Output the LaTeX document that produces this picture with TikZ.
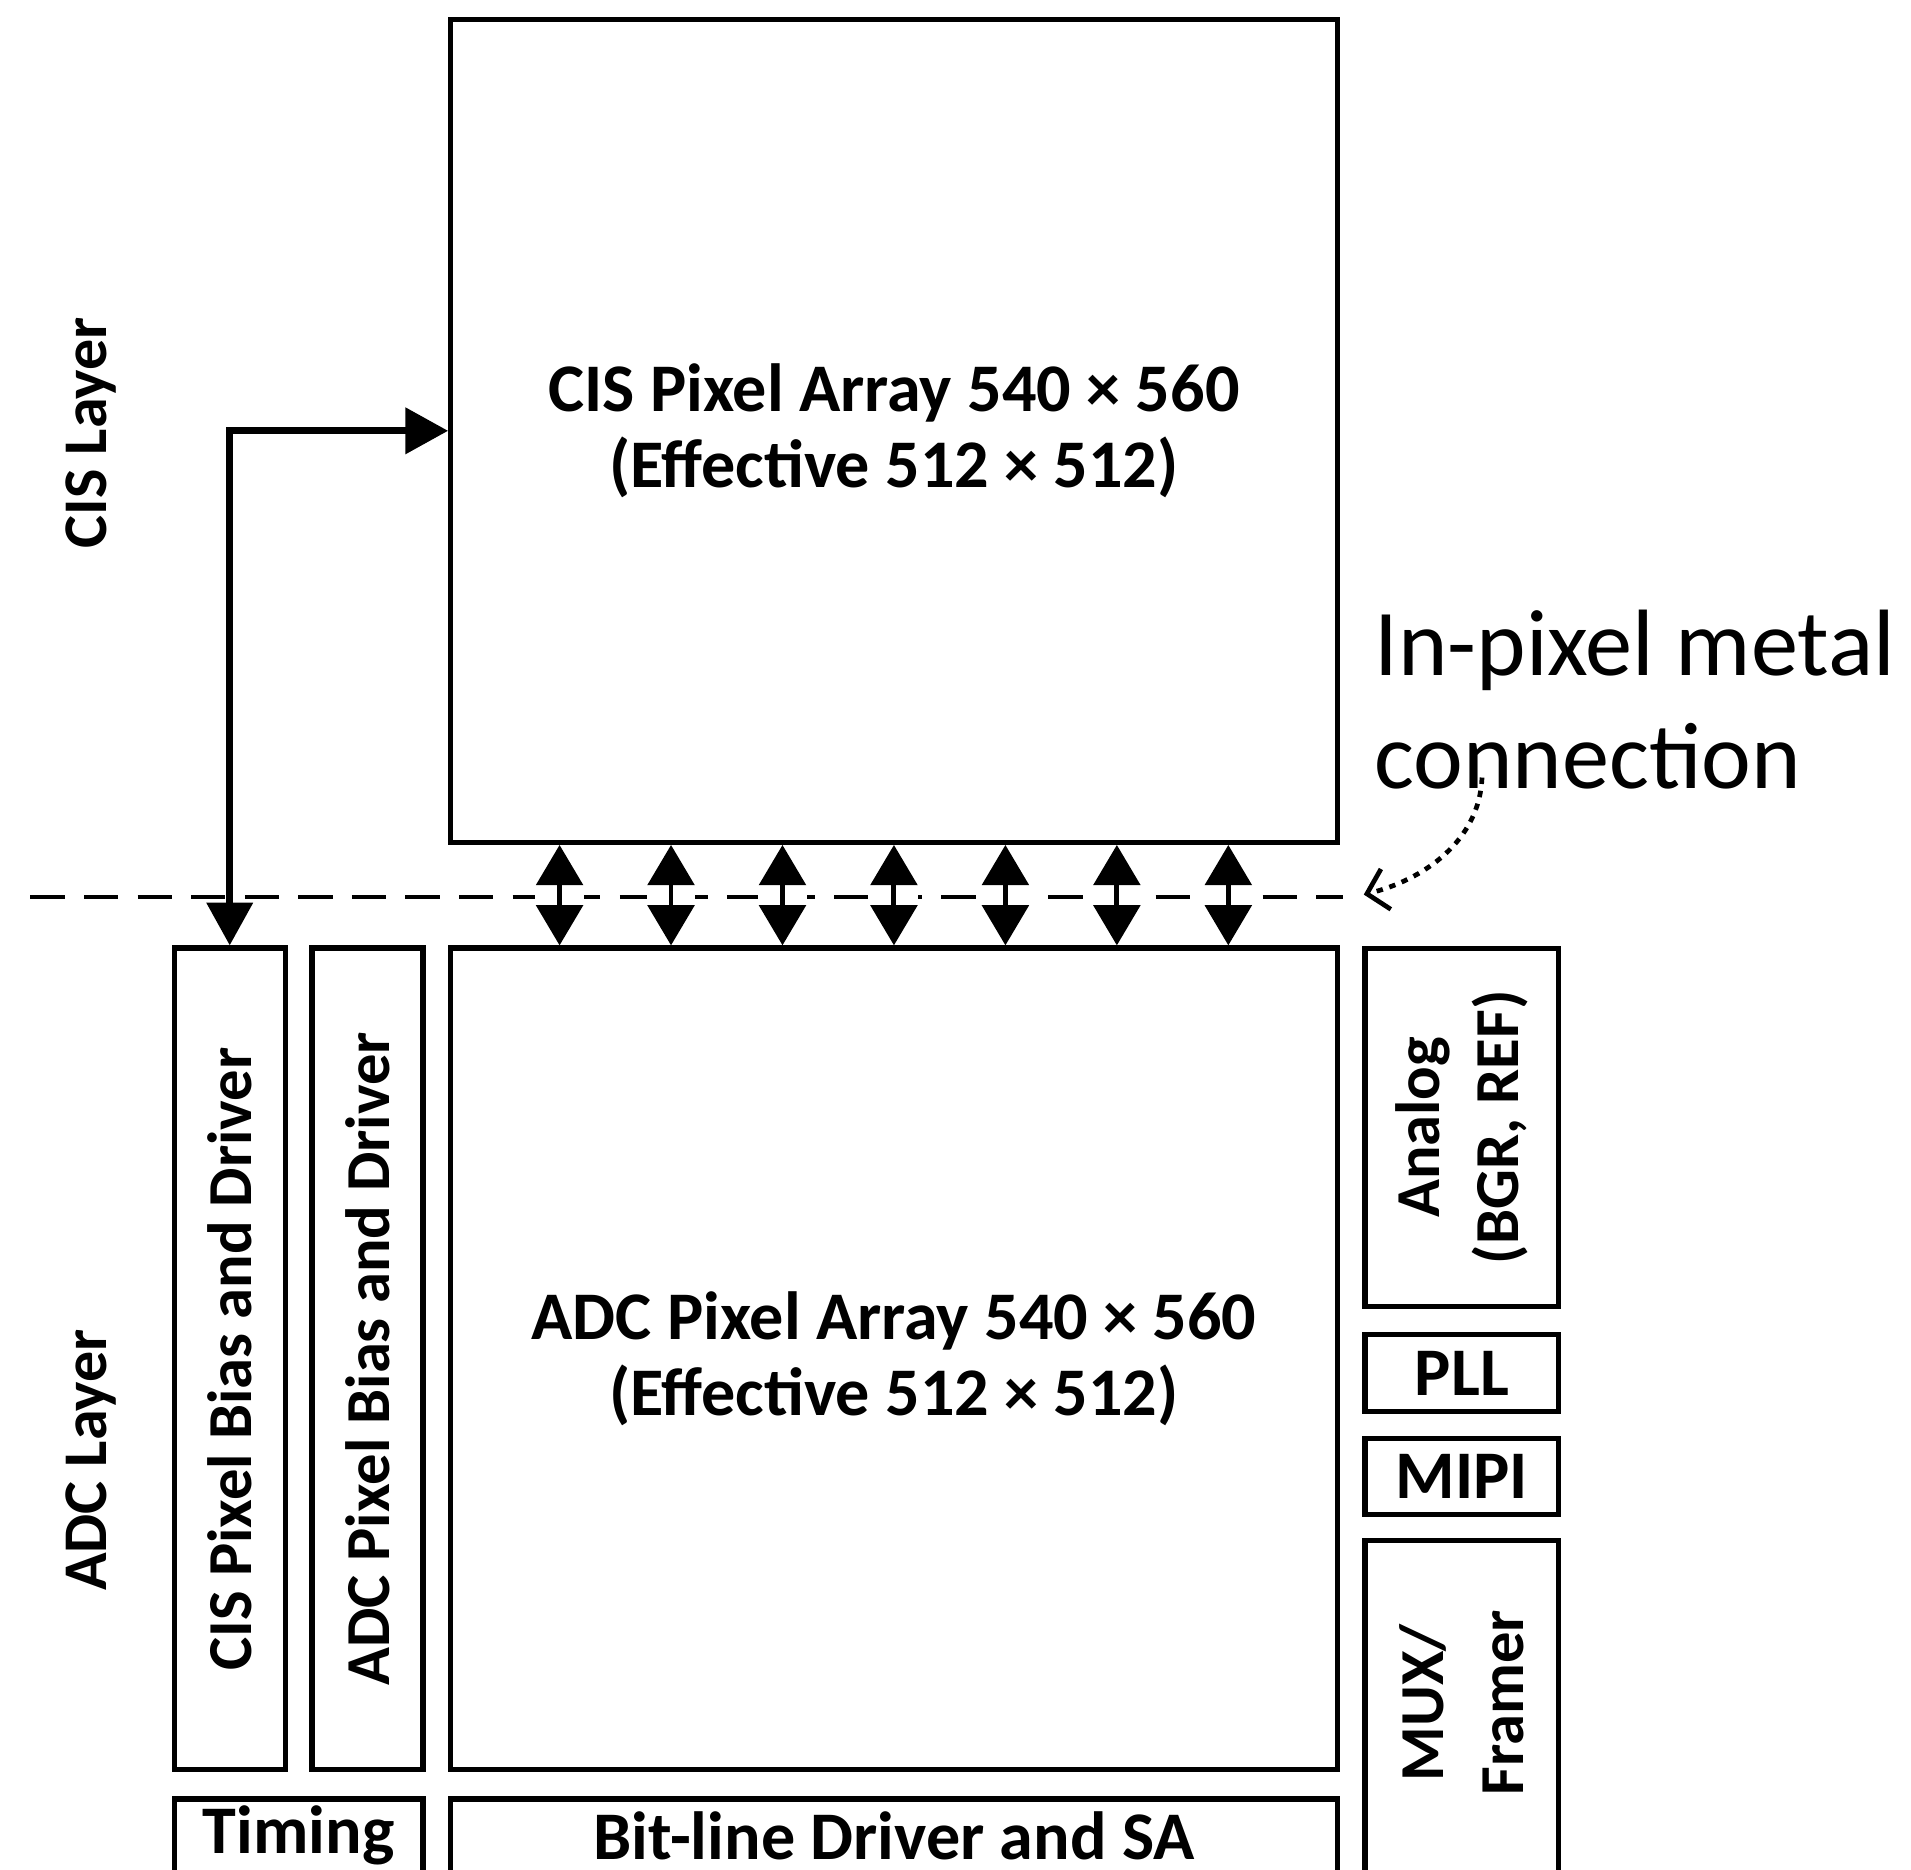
\documentclass[tikz,border=0pt]{standalone}
\usepackage{fontspec}
\setmainfont{Carlito}
\usetikzlibrary{arrows.meta, calc}
\tikzset{
	blk/.style   ={rectangle, draw=black, line width=1.2pt, inner sep=0pt, align=center, font=\bfseries\fontsize{15.9}{17.6}\selectfont},
	vblk/.style  ={blk, rotate=90, font=\bfseries\fontsize{14.6}{18.5}\selectfont},
	lyr/.style   ={rotate=90, inner sep=0pt, font=\bfseries\fontsize{14.5}{17}\selectfont},
	% connectors between the two dies
	sig/.style   ={{Triangle[length=0.35cm, width=0.37cm]}-{Triangle[length=0.35cm, width=0.37cm]}, line width=1.6pt},
	via/.style   ={{Triangle[length=0.33cm, width=0.38cm]}-{Triangle[length=0.33cm, width=0.38cm]}, line width=1.15pt, preaction={draw=white, line width=0.4cm, -, shorten <=0.26cm, shorten >=0.26cm}},
	bond/.style  ={dash pattern=on 8pt off 4.5pt, line width=0.8pt},
	callout/.style={dash pattern=on 1.5pt off 1.6pt, line width=1.1pt, -{Straight Barb[length=0.16cm, width=0.34cm]}},
}
\begin{document}
\begin{tikzpicture}[x=0.01cm, y=-0.01cm]
	\fill[white] (0,0) rectangle (1568,1534);
	\clip (0,0) rectangle (1568,1534);
	% layer names
	\node[lyr] (cislyr) at (75,355) {CIS Layer};
	\node[lyr] (adclyr) at (75,1198) {ADC Layer};
	% top die
	\node[blk, minimum width=7.27cm, minimum height=6.75cm] (cis) at (733.5,353.5) {CIS Pixel Array 540 × 560\\(Effective 512 × 512)};
	% bottom die
	\node[blk, minimum width=7.27cm, minimum height=6.74cm] (adc) at (733.5,1115) {ADC Pixel Array 540 × 560\\(Effective 512 × 512)};
	\node[vblk, minimum width=6.74cm, minimum height=0.91cm] (cisbias) at (188.5,1115) {CIS Pixel Bias and Driver};
	\node[vblk, minimum width=6.74cm, minimum height=0.91cm] (adcbias) at (301.5,1115) {ADC Pixel Bias and Driver};
	\node[blk, minimum width=2.04cm, minimum height=0.6cm, anchor=north] (timing) at (245,1474) {Timing};
	\node[blk, minimum width=7.27cm, minimum height=0.6cm, anchor=north] (bitline) at (733.5,1474) {Bit-line Driver and SA};
	\node[vblk, minimum width=2.94cm, minimum height=1.59cm] (analog) at (1199.5,925) {Analog\\(BGR, REF)};
	\node[blk, minimum width=1.59cm, minimum height=0.63cm] (pll) at (1199.5,1126.5) {PLL};
	\node[blk, minimum width=1.59cm, minimum height=0.63cm] (mipi) at (1199.5,1211.5) {MIPI};
	\node[blk, minimum width=1.59cm, minimum height=2.96cm] (mux) at (1199.5,1412) {};
	\node[vblk, draw=none] (muxtxt) at (1199.5,1397) {MUX/\\Framer};
	% bonding plane
	\coordinate (bl) at (25,736);
	\coordinate (br) at (1102,736);
	\draw[bond] (bl) -- (br);
	\foreach \k in {1,...,7}
		\draw[via] ($(cis.south west)!\k/8!(cis.south east)$) -- ($(adc.north west)!\k/8!(adc.north east)$);
	\draw[sig] (cis.west) -| (cisbias.east);
	% note
	\node[anchor=west, align=left, inner sep=0pt, font=\fontsize{22}{26.4}\selectfont] (note) at (1127,574) {In-pixel metal\\connection};
	\coordinate (ns) at (1216,638);
	\coordinate (tip) at (1119,734);
	\draw[callout] (ns) .. controls (1214,690) and (1168,722) .. (tip);
\end{tikzpicture}
\end{document}
